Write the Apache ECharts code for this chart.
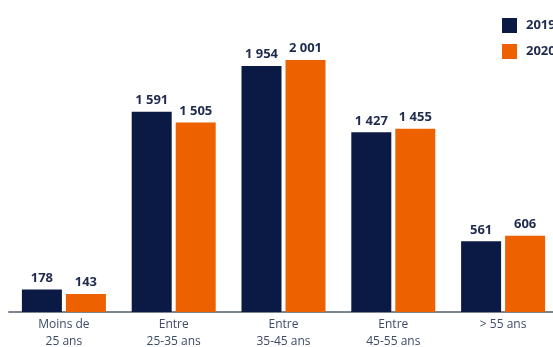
<!DOCTYPE html>
<html><head><meta charset="utf-8">
<script src="https://cdn.jsdelivr.net/npm/echarts@6/dist/echarts.min.js"></script>
<style>html,body{margin:0;padding:0;background:#fff}#c{width:553px;height:347px}</style>
</head><body><div id="c"></div>
<script>
const categories = ['Moins de\n25 ans', 'Entre\n25-35 ans', 'Entre\n35-45 ans', 'Entre\n45-55 ans', '> 55 ans'];
const seriesNames = ['2019', '2020'];
const values2019 = [178, 1591, 1954, 1427, 561];
const values2020 = [143, 1505, 2001, 1455, 606];

const fmt = v => String(v).replace(/\B(?=(\d{3})+(?!\d))/g, ' ');
const font = '"Open Sans", "Noto Sans", sans-serif';
const chart = echarts.init(document.getElementById('c'));
const lbl = {show: true, position: 'top', distance: 5, color: '#1f2b4d', fontWeight: 'bold', fontSize: 13, fontFamily: font, formatter: p => fmt(p.value)};
chart.setOption({
  animation: false,
  legend: {orient: 'vertical', left: 497, top: 13, itemWidth: 15, itemHeight: 15, itemGap: 11,
    icon: 'rect', textStyle: {color: '#1f2b4d', fontWeight: 'bold', fontSize: 13, fontFamily: font, padding: [0,0,0,4]},
    data: seriesNames},
  grid: {left: 9, right: -5, top: 35, bottom: 35, containLabel: false, outerBoundsMode: 'none'},
  xAxis: {type: 'category', data: categories,
    axisLine: {lineStyle: {color: '#7d8595', width: 2}}, axisTick: {show: false},
    axisLabel: {color: '#3d4a66', fontSize: 12, fontFamily: font, lineHeight: 17, margin: 4, interval: 0}},
  yAxis: {type: 'value', min: 0, max: 2200, show: false, splitLine: {show: false}},
  series: [
    {name: seriesNames[0], type: 'bar', data: values2019, barWidth: 40, barGap: '10%', itemStyle: {color: '#0b1a45'}, label: lbl},
    {name: seriesNames[1], type: 'bar', data: values2020, barWidth: 40, itemStyle: {color: '#ee6100'}, label: lbl}
  ]
});
</script></body></html>
